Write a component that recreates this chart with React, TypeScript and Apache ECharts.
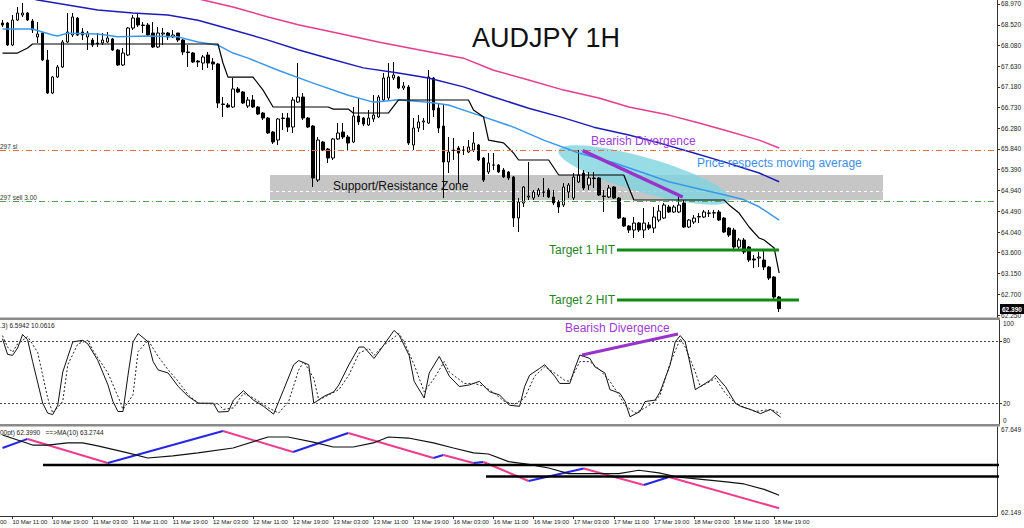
import React, { useEffect, useRef } from "react";
import * as echarts from "echarts";

// ---------- price data (hourly AUDJPY candles) ----------
const opens = [
  68.559, 68.559, 68.084, 68.624, 68.732, 68.775, 68.602, 68.257, 68.343, 67.760,
  67.047, 67.393, 67.609, 68.149, 68.300, 68.667, 68.365, 68.257, 68.192, 68.127,
  68.127, 68.149, 68.214, 67.976, 67.652, 67.868, 68.451, 68.667, 68.516, 68.516,
  68.343, 68.041, 68.322, 68.343, 68.257, 68.343, 68.192, 67.933, 67.911, 67.738,
  67.695, 67.868, 67.717, 67.674, 66.810, 66.788, 66.745, 67.134, 67.069, 66.766,
  66.896, 66.745, 66.615, 66.507, 66.205, 66.032, 66.507, 66.507, 66.313, 66.853,
  66.961, 66.507, 66.334, 65.168, 65.989, 65.838, 65.643, 66.054, 66.205, 66.097,
  65.989, 66.550, 66.507, 66.356, 66.486, 66.529, 66.896, 66.939, 67.371, 67.393,
  67.155, 67.177, 65.924, 66.291, 66.421, 66.399, 67.371, 66.723, 66.334, 65.557,
  65.816, 65.859, 65.816, 65.773, 65.816, 65.924, 65.643, 65.341, 65.492, 65.492,
  65.384, 65.341, 65.233, 64.347, 64.671, 64.801, 64.779, 64.844, 64.909, 64.952,
  64.801, 64.693, 64.628, 64.909, 64.779, 65.125, 65.319, 65.060, 65.211, 65.211,
  64.822, 64.801, 65.017, 64.779, 64.347, 64.174, 64.088, 64.239, 64.088, 64.196,
  64.131, 64.304, 64.347, 64.585, 64.477, 64.477, 64.671, 64.153, 64.261, 64.369,
  64.369, 64.455, 64.455, 64.477, 64.347, 64.131, 64.088, 63.721, 63.872, 63.721,
  63.462, 63.483, 63.440, 63.289, 63.073, 62.641,
];
const closes = [
  68.516, 68.084, 68.624, 68.775, 68.775, 68.624, 68.408, 68.322, 67.760, 67.047,
  67.393, 67.609, 68.149, 68.365, 68.689, 68.300, 68.300, 68.343, 68.084, 68.106,
  68.192, 68.235, 67.976, 67.652, 67.911, 68.451, 68.667, 68.516, 68.505, 68.300,
  68.041, 68.343, 68.343, 68.257, 68.300, 68.192, 67.933, 67.922, 67.717, 67.717,
  67.825, 67.695, 67.674, 66.831, 66.799, 66.745, 67.134, 67.069, 66.831, 66.896,
  66.745, 66.594, 66.507, 66.183, 65.989, 66.486, 66.496, 66.313, 66.896, 66.961,
  66.507, 66.313, 65.211, 66.032, 65.816, 65.643, 66.054, 66.183, 66.097, 65.967,
  66.550, 66.421, 66.378, 66.507, 66.572, 66.961, 67.371, 67.393, 67.436, 67.155,
  67.198, 65.967, 66.291, 66.421, 66.443, 67.393, 66.680, 66.291, 65.557, 65.773,
  65.805, 65.751, 65.810, 65.881, 65.967, 65.600, 65.168, 65.535, 65.490, 65.341,
  65.233, 65.211, 64.347, 64.693, 65.017, 64.822, 64.909, 64.952, 64.905, 64.801,
  64.671, 64.585, 65.017, 65.060, 65.233, 65.276, 64.995, 65.211, 65.200, 64.844,
  64.811, 64.995, 64.779, 64.347, 64.174, 64.088, 64.239, 64.088, 64.239, 64.131,
  64.369, 64.498, 64.628, 64.477, 64.585, 64.628, 64.153, 64.304, 64.347, 64.380,
  64.477, 64.450, 64.460, 64.304, 64.045, 63.980, 63.721, 63.872, 63.613, 63.440,
  63.440, 63.505, 63.289, 63.051, 62.641, 62.390,
];
const lows = [
  68.473, 68.062, 68.062, 68.602, 68.689, 68.602, 68.343, 68.127, 67.738, 67.026,
  67.026, 67.371, 67.587, 68.127, 68.257, 68.278, 68.192, 67.976, 68.041, 68.041,
  68.084, 68.127, 67.954, 67.630, 67.630, 67.846, 68.408, 68.473, 68.343, 68.257,
  68.019, 68.019, 68.084, 68.192, 68.235, 68.149, 67.868, 67.609, 67.695, 67.609,
  67.544, 67.587, 67.544, 66.723, 66.529, 66.723, 66.723, 67.047, 66.810, 66.723,
  66.723, 66.572, 66.464, 66.162, 65.946, 65.924, 66.248, 66.205, 66.183, 66.831,
  66.464, 66.291, 65.017, 65.125, 65.794, 65.535, 65.600, 66.032, 66.054, 65.816,
  65.967, 66.356, 66.334, 66.334, 66.421, 66.507, 66.853, 66.896, 67.328, 67.134,
  67.112, 65.924, 65.816, 66.205, 66.248, 66.378, 66.529, 66.183, 64.779, 65.319,
  65.600, 65.103, 65.708, 65.751, 65.773, 65.578, 65.125, 65.298, 65.384, 65.319,
  65.211, 65.168, 64.153, 64.045, 64.585, 64.736, 64.736, 64.801, 64.801, 64.779,
  64.628, 64.455, 64.585, 64.779, 64.736, 65.103, 64.952, 64.952, 64.995, 64.822,
  64.477, 64.779, 64.758, 64.326, 64.153, 64.023, 63.915, 64.045, 63.915, 64.088,
  64.023, 64.261, 64.326, 64.455, 64.455, 64.455, 64.131, 64.131, 64.218, 64.239,
  64.347, 64.369, 64.347, 64.282, 64.023, 63.937, 63.656, 63.656, 63.570, 63.397,
  63.267, 63.289, 63.224, 63.008, 62.598, 62.317,
];
const highs = [
  68.624, 68.581, 68.732, 68.905, 68.991, 68.797, 68.646, 68.581, 68.365, 67.976,
  67.414, 67.652, 68.192, 68.775, 68.775, 68.689, 68.451, 68.386, 68.235, 68.343,
  68.343, 68.365, 68.235, 67.998, 68.019, 68.473, 68.732, 68.775, 68.581, 68.559,
  68.581, 68.473, 68.451, 68.365, 68.408, 68.343, 68.214, 68.084, 67.933, 67.760,
  67.868, 67.933, 67.803, 67.695, 66.961, 66.831, 67.371, 67.177, 67.090, 66.961,
  67.004, 66.766, 66.637, 66.529, 66.226, 66.507, 66.615, 66.615, 66.961, 67.695,
  67.047, 66.529, 66.356, 66.097, 66.010, 65.859, 66.075, 66.399, 66.399, 66.140,
  66.745, 66.939, 66.529, 66.680, 67.004, 67.004, 67.479, 67.695, 67.717, 67.414,
  67.285, 67.220, 66.507, 66.572, 66.507, 67.544, 67.393, 66.810, 66.788, 66.097,
  66.075, 65.902, 65.902, 66.032, 66.205, 65.946, 65.665, 65.751, 65.751, 65.514,
  65.427, 65.362, 65.254, 64.779, 65.038, 65.557, 64.952, 64.995, 65.211, 64.995,
  64.952, 64.736, 65.103, 65.103, 65.319, 65.816, 65.384, 65.341, 65.341, 65.233,
  64.952, 65.060, 65.038, 64.801, 64.369, 64.196, 64.369, 64.261, 64.563, 64.261,
  64.585, 64.628, 64.671, 64.628, 64.628, 64.801, 64.736, 64.326, 64.412, 64.455,
  64.520, 64.520, 64.520, 64.520, 64.369, 64.153, 64.131, 63.915, 63.915, 63.742,
  63.548, 63.613, 63.656, 63.310, 63.094, 62.662,
];

// moving averages and trailing line: [bar index, price]
const maFast = [
  [0, 68.43], [6, 68.43], [10, 68.3], [11, 68.28], [13, 68.34], [19, 68.32], [23, 68.26],
  [29, 68.28], [35, 68.26], [39, 68.15], [43, 68.08], [46, 67.91], [49, 67.8], [55, 67.54],
  [62, 67.26], [69, 67.0], [74, 66.85], [79, 66.9], [85, 66.85], [89, 66.79], [95, 66.57],
  [102, 66.31], [108, 66.03], [115, 65.75], [122, 65.54], [128, 65.32], [133, 65.13],
  [138, 65.0], [144, 64.85], [148, 64.74], [151, 64.59], [155, 64.3],
];
const maMid = [
  [0, 69.23], [7, 69.056], [13, 68.95], [19, 68.84], [26, 68.775], [33, 68.73], [39, 68.62],
  [46, 68.41], [53, 68.19], [59, 67.98], [65, 67.8], [72, 67.59], [79, 67.48], [85, 67.37],
  [92, 67.18], [98, 66.96], [105, 66.72], [112, 66.51], [118, 66.31], [125, 66.14],
  [131, 65.97], [138, 65.75], [144, 65.56], [151, 65.32], [155, 65.13],
];
const maSlow = [
  [30, 69.34], [40, 69.056], [46, 68.905], [53, 68.69], [59, 68.52], [67, 68.34], [75, 68.15],
  [83, 67.98], [92, 67.8], [98, 67.54], [105, 67.33], [112, 67.11], [119, 66.94],
  [125, 66.745], [133, 66.57], [139, 66.4], [144, 66.25], [151, 66.03], [155, 65.86],
];
const trailLine = [
  [0, 67.91], [3, 67.91], [5, 68.02], [6, 68.106], [43, 68.106], [44, 67.695], [45, 67.39],
  [50, 67.39], [52, 67.11], [54, 66.745], [65, 66.745], [66, 66.7], [69, 66.7], [70, 66.615],
  [77, 66.615], [79, 66.896], [93, 66.896], [94, 66.68], [96, 66.53], [97, 66.03],
  [100, 65.97], [102, 65.75], [103, 65.6], [109, 65.6], [111, 65.276], [124, 65.276],
  [126, 64.736], [144, 64.736], [145, 64.63], [147, 64.455], [149, 64.153], [151, 63.915],
  [152, 63.872], [154, 63.7], [155, 63.16],
];
const slLevel = 65.816;
const sellLevel = 64.725;
const currentPrice = 62.39;
const priceTicks = [
  68.97, 68.52, 68.08, 67.63, 67.18, 66.73, 66.28, 65.84, 65.39, 64.94, 64.49, 64.04,
  63.6, 63.15, 62.7, 62.25,
];

// stochastic
const stochK = [
  [0, 82], [1, 67], [2, 66], [3, 73], [4, 86], [5, 81], [6, 60], [8, 20], [9, 10.5], [10, 9],
  [11, 18], [12, 50], [14, 79], [16, 80.5], [17, 77], [19, 61], [21, 37.6], [22, 21.6],
  [23, 12], [24, 12], [25, 47], [26, 79], [27, 87], [29, 79], [30, 60], [31, 52], [33, 49],
  [35, 36], [37, 26.5], [39, 20], [41, 20], [42, 20], [43, 11.5], [45, 12], [46, 23],
  [48, 32], [50, 23], [52, 17], [54, 9.5], [56, 33], [58, 57], [59, 61], [61, 57], [62, 20],
  [64, 26.5], [66, 31], [67, 37.6], [69, 57], [71, 74], [72, 74], [74, 63], [75, 69.5],
  [78, 90], [79, 85.5], [81, 66], [82, 41], [84, 25], [85, 49], [87, 65], [89, 46], [91, 36],
  [93, 37.6], [95, 41], [97, 31], [99, 28], [101, 18], [103, 17], [104, 36], [105, 47],
  [107, 53.5], [108, 57], [110, 46], [111, 39], [113, 39], [114, 53.5], [115, 66.3],
  [117, 63], [118, 55], [120, 49], [121, 33], [123, 29.5], [124, 21.6], [125, 7], [127, 12],
  [128, 21.6], [130, 23], [131, 31], [133, 57], [134, 79], [135, 85], [136, 79], [137, 57],
  [138, 33], [140, 39], [141, 42], [142, 47], [144, 36], [146, 20], [147, 17], [149, 14],
  [151, 10], [152, 12], [153, 14], [155, 6.59],
];
const stochD = [
  [0, 85], [1, 74], [2, 69], [3, 77], [5, 84], [7, 69], [9, 25], [10, 10.5], [12, 21.6],
  [13, 57], [15, 77], [17, 80.5], [18, 71], [21, 49], [23, 26.5], [24, 14], [26, 28],
  [27, 69.5], [29, 80.5], [31, 65], [33, 52], [35, 41], [37, 28], [39, 20], [43, 19],
  [44, 14], [46, 15.5], [48, 29.5], [50, 25], [53, 15.5], [55, 10.5], [57, 21.6], [59, 52],
  [60, 60], [62, 44], [63, 23], [65, 28], [67, 33], [69, 47], [71, 68], [73, 72.7], [74, 66],
  [76, 76], [79, 87], [80, 79], [82, 57], [84, 31], [86, 44], [88, 60], [89, 50], [92, 39],
  [94, 39], [96, 36], [98, 29.5], [100, 21.6], [102, 19], [104, 25], [106, 46], [108, 55],
  [110, 49], [112, 42], [113, 41], [115, 60], [117, 60], [119, 52], [121, 41], [123, 26.5],
  [124, 18], [126, 10.5], [128, 15.5], [130, 21.6], [131, 28], [133, 58.5], [135, 82],
  [136, 74], [138, 50], [139, 36], [141, 41], [142, 44], [144, 29.5], [146, 20], [148, 15.5],
  [150, 12], [153, 14], [155, 10.06],
];
const stochLevels = [20, 80];

// lower indicator
const zigzag = [
  [0, 66.44], [5, 67.05], [21, 65.44], [44, 67.58], [58, 66.17], [69, 67.45], [86, 65.77],
  [88, 65.97], [94, 65.44], [96, 65.5], [105, 64.23], [116, 65.07], [128, 63.96],
  [133, 64.5], [155, 62.4],
];
const ma10 = [
  [0, 67.31], [6, 66.64], [9, 66.64], [13, 66.78], [16, 66.78], [19, 66.58], [25, 66.11],
  [29, 65.77], [34, 65.91], [39, 66.11], [46, 66.44], [53, 67.18], [57, 67.18], [62, 66.84],
  [66, 66.51], [70, 66.51], [74, 66.78], [77, 67.18], [81, 67.11], [86, 66.78], [90, 66.44],
  [94, 66.11], [97, 66.04], [101, 65.53], [105, 65.34], [109, 65.1], [113, 64.72],
  [118, 64.72], [123, 64.72], [127, 64.95], [131, 64.77], [135, 64.48], [139, 64.36],
  [144, 64.18], [148, 64.03], [152, 63.67], [155, 63.27],
];
const lowerTicks = [62.149, 67.649];

// time axis
const timeTicks = [
  "10 Mar 11:00", "10 Mar 19:00", "11 Mar 03:00", "11 Mar 11:00", "11 Mar 19:00",
  "12 Mar 03:00", "12 Mar 11:00", "12 Mar 19:00", "13 Mar 03:00", "13 Mar 11:00",
  "13 Mar 19:00", "16 Mar 03:00", "16 Mar 11:00", "16 Mar 19:00", "17 Mar 03:00",
  "17 Mar 11:00", "17 Mar 19:00", "18 Mar 03:00", "18 Mar 11:00", "18 Mar 19:00",
];
const SLOTS = 199;

function pad(n: number) {
  return n < 10 ? "0" + n : "" + n;
}
function buildCategories(): string[] {
  const out: string[] = [];
  for (let i = 0; i < SLOTS; i++) {
    let day: number;
    let hour: number;
    if (i <= 86) {
      const h = 9 + i;
      day = 10 + Math.floor(h / 24);
      hour = h % 24;
    } else {
      const h = i - 87;
      day = 16 + Math.floor(h / 24);
      hour = h % 24;
    }
    out.push(day + " Mar " + pad(hour) + ":00");
  }
  return out;
}

const FONT = "'Liberation Sans', Arial, sans-serif";
const AX = "#333";

function buildOption() {
  const categories = buildCategories();
  const tickSet = new Set(timeTicks);
  const candles = opens.map((o, i) => [o, closes[i], lows[i], highs[i]]);

  const zigSeries = zigzag.slice(0, -1).map((p, k) => {
    const q = zigzag[k + 1];
    return {
      type: "line",
      xAxisIndex: 2,
      yAxisIndex: 2,
      data: [p, q],
      symbol: "none",
      silent: true,
      z: 3,
      lineStyle: { color: q[1] > p[1] ? "#2626e6" : "#ee3d8e", width: 2 },
    };
  });

  const hiddenX = (gi: number) => ({
    type: "category",
    gridIndex: gi,
    data: categories,
    boundaryGap: true,
    show: false,
  });

  const lineS = (data: number[][], color: string, width: number, xi = 0, extra: any = {}) => ({
    type: "line",
    xAxisIndex: xi,
    yAxisIndex: xi,
    data,
    symbol: "none",
    silent: true,
    z: 4,
    lineStyle: { color, width },
    ...extra,
  });

  const txt = (x: number, y: number, text: string, size: number, fill: string, extra: any = {}) => ({
    type: "text",
    z: 50,
    x,
    y,
    style: { text, fontSize: size, fill, fontFamily: FONT, textVerticalAlign: "middle", verticalAlign: "middle", ...extra },
  });
  const seg = (x1: number, y1: number, x2: number, y2: number, stroke: string, w: number, z = 40, dash?: number[]) => ({
    type: "line",
    z,
    shape: { x1, y1, x2, y2 },
    style: { stroke, lineWidth: w, lineDash: dash },
  });

  return {
    animation: false,
    backgroundColor: "#ffffff",
    grid: [
      { left: 0, right: 25, top: 0, height: 318 },
      { left: 0, right: 25, top: 320, height: 104 },
      { left: 0, right: 25, top: 427, height: 89 },
    ],
    xAxis: [
      hiddenX(0),
      hiddenX(1),
      {
        type: "category",
        gridIndex: 2,
        data: categories,
        boundaryGap: true,
        axisLine: { show: true, lineStyle: { color: AX, width: 1 } },
        axisTick: {
          show: true,
          alignWithLabel: true,
          length: 3,
          interval: (_i: number, v: string) => tickSet.has(v),
          lineStyle: { color: AX },
        },
        axisLabel: {
          show: true,
          interval: (_i: number, v: string) => tickSet.has(v),
          align: "left",
          margin: 3,
          fontSize: 6,
          color: "#222",
          fontFamily: FONT,
        },
        splitLine: { show: false },
      },
    ],
    yAxis: [
      {
        type: "value",
        gridIndex: 0,
        position: "right",
        min: 62.188,
        max: 69.056,
        axisLine: { show: true, lineStyle: { color: AX } },
        axisTick: { show: true, length: 3, customValues: priceTicks, lineStyle: { color: AX } },
        axisLabel: {
          show: true,
          customValues: priceTicks,
          formatter: (v: number) => v.toFixed(3),
          fontSize: 6.5,
          color: "#222",
          margin: 4,
          fontFamily: FONT,
        },
        splitLine: { show: false },
      },
      {
        type: "value",
        gridIndex: 1,
        position: "right",
        min: 0,
        max: 100,
        axisLine: { show: true, lineStyle: { color: AX } },
        axisTick: { show: true, length: 3, customValues: stochLevels, lineStyle: { color: AX } },
        axisLabel: { show: true, customValues: stochLevels, fontSize: 6.5, color: "#222", margin: 4, fontFamily: FONT },
        splitLine: { show: false },
      },
      {
        type: "value",
        gridIndex: 2,
        position: "right",
        min: 61.881,
        max: 67.85,
        axisLine: { show: true, lineStyle: { color: AX } },
        axisTick: { show: false },
        axisLabel: {
          show: true,
          customValues: lowerTicks,
          formatter: (v: number) => v.toFixed(3),
          fontSize: 6.5,
          color: "#222",
          margin: 4,
          fontFamily: FONT,
        },
        splitLine: { show: false },
      },
    ],
    series: [
      {
        type: "candlestick",
        xAxisIndex: 0,
        yAxisIndex: 0,
        data: candles,
        barWidth: 3,
        silent: true,
        z: 3,
        itemStyle: {
          color: "#ffffff",
          color0: "#000000",
          borderColor: "#000000",
          borderColor0: "#000000",
          borderColorDoji: "#000000",
          borderWidth: 1,
        },
        markLine: {
          silent: true,
          symbol: ["none", "none"],
          label: { show: false },
          data: [
            { yAxis: slLevel, lineStyle: { color: "#e2703c", width: 1, type: [6, 3, 1, 3] } },
            { yAxis: sellLevel, lineStyle: { color: "#4fa54f", width: 1, type: [6, 3, 1, 3] } },
          ],
        },
      },
      lineS(maSlow, "#e83c8c", 1.5),
      lineS(maMid, "#1c1cb8", 1.5),
      lineS(maFast, "#3a97ec", 1.5),
      lineS(trailLine, "#000000", 1.2),
      lineS(stochK, "#111111", 1, 1, {
        markLine: {
          silent: true,
          symbol: ["none", "none"],
          label: { show: false },
          lineStyle: { color: "#444", width: 1, type: [2, 2] },
          data: stochLevels.map((v) => ({ yAxis: v })),
        },
      }),
      lineS(stochD, "#222222", 1, 1, { lineStyle: { color: "#222", width: 1, type: [2, 2] } }),
      ...zigSeries,
      lineS(ma10, "#111111", 1.2, 2),
    ],
    graphic: [
      // support / resistance zone
      { type: "rect", z: 0, shape: { x: 270, y: 175, width: 613, height: 25 }, style: { fill: "#c6c6c6" } },
      seg(270, 191.5, 883, 191.5, "#ffffff", 1, 1, [3, 3]),
      // highlight ellipse
      {
        type: "ellipse",
        z: 1,
        x: 644,
        y: 175,
        rotation: -0.28,
        shape: { cx: 0, cy: 0, rx: 89, ry: 17.5 },
        style: { fill: "rgba(126,212,222,0.8)" },
      },
      // panel separators
      { type: "rect", z: 45, shape: { x: 0, y: 317.5, width: 1000, height: 2.5 }, style: { fill: "#8a8a8a" } },
      { type: "rect", z: 45, shape: { x: 0, y: 424, width: 1000, height: 2.5 }, style: { fill: "#8a8a8a" } },
      // title
      txt(472, 38, "AUDJPY 1H", 27, "#111111"),
      // annotations in main panel
      seg(582.7, 150.7, 682.7, 197, "#9933cc", 3.5),
      txt(591, 141, "Bearish Divergence", 12, "#a23ad6"),
      txt(697, 163, "Price respects moving average", 12, "#3d8fe6"),
      txt(333, 186, "Support/Resistance Zone", 12, "#111111"),
      seg(617, 250, 779, 250, "#138a13", 3),
      txt(549, 249.5, "Target 1 HIT", 12, "#1f861f"),
      seg(617, 300, 799, 300, "#138a13", 3),
      txt(549, 299.5, "Target 2 HIT", 12, "#1f861f"),
      txt(0, 146.5, "297 sl", 6.5, "#333333"),
      txt(0, 197, "297 sell 3.00", 6.5, "#333333"),
      // current price box
      { type: "rect", z: 46, shape: { x: 1000, y: 304, width: 24, height: 10 }, style: { fill: "#000000" } },
      txt(1002, 309, currentPrice.toFixed(3), 6.5, "#ffffff", { fontWeight: "bold" }),
      // stochastic panel
      txt(0, 325, ".3) 6.5942 10.0616", 6.5, "#222222"),
      seg(582, 355, 678, 334, "#9933cc", 3),
      txt(565, 328, "Bearish Divergence", 12, "#a23ad6"),
      txt(1003, 323, "100", 6.5, "#222222"),
      txt(1003, 420.5, "0", 6.5, "#222222"),
      // lower panel
      txt(0, 432, "00pt) 62.3990   ==>MA(10) 63.2744", 6.5, "#222222"),
      seg(43, 465, 999, 465, "#000000", 2.5, 30),
      seg(486, 476.5, 999, 476.5, "#000000", 2.5, 30),
      txt(0, 521.5, "00", 6, "#222222"),
    ],
  };
}

export default function App() {
  const ref = useRef<HTMLDivElement>(null);
  useEffect(() => {
    if (!ref.current) return;
    const chart = echarts.init(ref.current, null, { renderer: "svg" });
    chart.setOption(buildOption() as any);
    return () => {
      chart.dispose();
    };
  }, []);
  return (
    <div
      ref={ref}
      style={{ position: "fixed", left: 0, top: 0, width: 1024, height: 528, background: "#ffffff" }}
    />
  );
}
